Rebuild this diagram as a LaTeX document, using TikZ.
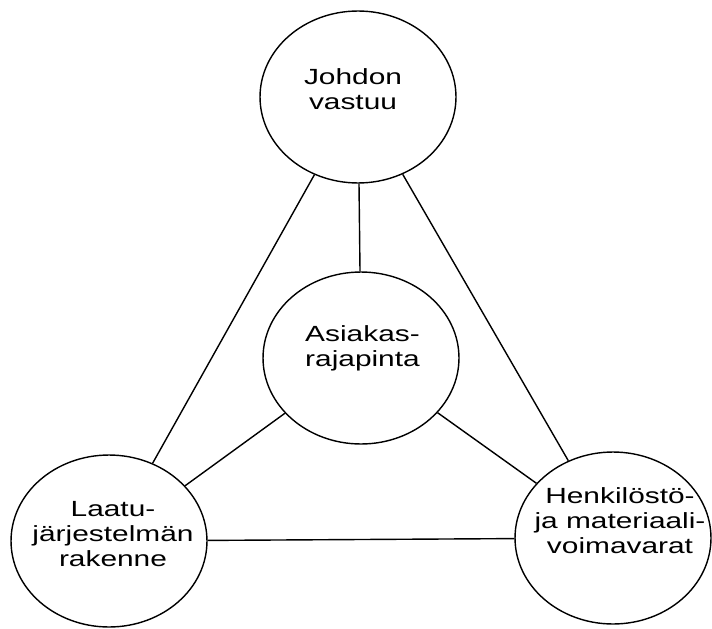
\documentclass[tikz,border=0pt]{standalone}
\usepackage{fontspec}
\setmainfont[FakeStretch=1.36]{Liberation Sans}
\usetikzlibrary{shapes.geometric}

\begin{document}
\begin{tikzpicture}[x=0.02cm, y=-0.02cm]

    % Define some common styles
    \tikzset{
        blob/.style={draw, ellipse, line width=0.8pt, minimum width=3.92cm, minimum height=3.44cm, inner sep=0pt},
        caption/.style={align=center, inner sep=0pt, font=\fontsize{12.5}{14.2}\selectfont},
        link/.style={line width=0.8pt}
    }

    \useasboundingbox (0,0) rectangle (712,628);

    % The four areas
    \node[blob] (lead) at (358,97) {};
    \node[blob] (client) at (361,358) {};
    \node[blob] (system) at (109,541) {};
    \node[blob] (staff) at (613,538) {};

    % Texts, set a little above the middle
    \node[caption] (leadtext) at ([shift={(-5,-8)}]lead) {Johdon\\vastuu};
    \node[caption] (clienttext) at ([shift={(1.5,-10)}]client) {Asiakas-\\rajapinta};
    \node[caption] (systemtext) at ([shift={(4,-7)}]system) {Laatu-\\järjestelmän\\rakenne};
    \node[caption] (stafftext) at ([shift={(7,-17)}]staff) {Henkilöstö-\\ja materiaali-\\voimavarat};

    % Outer triangle
    \draw[link] (lead) -- (system);
    \draw[link] (lead) -- (staff);
    \draw[link] (system) -- (staff);

    % Spokes to the middle
    \draw[link] (client) -- (lead);
    \draw[link] (client) -- (system);
    \draw[link] (client) -- (staff);

\end{tikzpicture}
\end{document}
